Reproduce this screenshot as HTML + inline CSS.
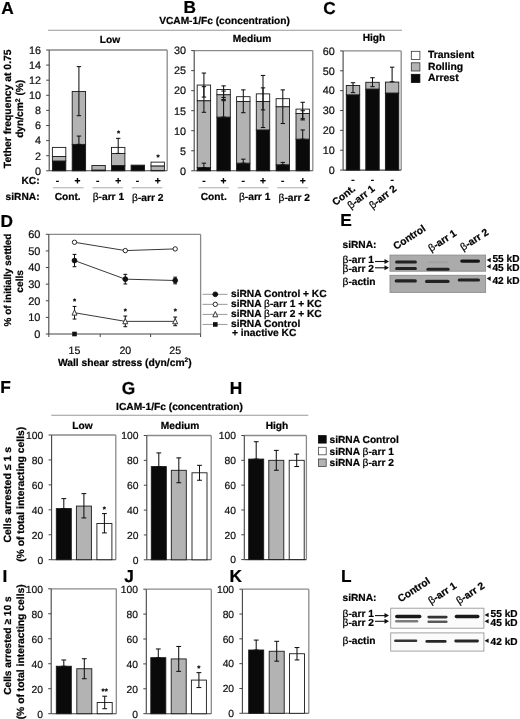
<!DOCTYPE html>
<html><head><meta charset="utf-8"><style>
html,body{margin:0;padding:0;background:#fff;}
body{width:520px;height:719px;overflow:hidden;}
svg{display:block;font-family:"Liberation Sans", sans-serif;filter:grayscale(1);text-rendering:geometricPrecision;}
</style></head><body>
<svg width="520" height="719" viewBox="0 0 520 719">
<defs><filter id="bl" x="-20%" y="-100%" width="140%" height="300%"><feGaussianBlur stdDeviation="0.6"/></filter></defs>
<rect width="520" height="719" fill="#fff"/>
<text x="1.20" y="13.50" font-size="17.3" font-weight="bold" text-anchor="start" fill="#000" stroke="#000" stroke-width="0.22">A</text>
<text x="183.60" y="13.40" font-size="17.3" font-weight="bold" text-anchor="start" fill="#000" stroke="#000" stroke-width="0.22">B</text>
<text x="323.20" y="13.60" font-size="17.3" font-weight="bold" text-anchor="start" fill="#000" stroke="#000" stroke-width="0.22">C</text>
<text x="224.50" y="23.80" font-size="10.2" font-weight="bold" text-anchor="middle" fill="#000" stroke="#000" stroke-width="0.22">VCAM-1/Fc (concentration)</text>
<line x1="48.00" y1="30.30" x2="402.00" y2="30.30" stroke="#999" stroke-width="1.1"/>
<text x="110.00" y="43.20" font-size="10.2" font-weight="bold" text-anchor="middle" fill="#000" stroke="#000" stroke-width="0.22">Low</text>
<text x="252.00" y="42.20" font-size="10.2" font-weight="bold" text-anchor="middle" fill="#000" stroke="#000" stroke-width="0.22">Medium</text>
<text x="374.00" y="41.40" font-size="10.2" font-weight="bold" text-anchor="middle" fill="#000" stroke="#000" stroke-width="0.22">High</text>
<line x1="49.20" y1="50.00" x2="167.20" y2="50.00" stroke="#8a8a8a" stroke-width="1.3"/>
<line x1="167.20" y1="50.00" x2="167.20" y2="170.80" stroke="#8a8a8a" stroke-width="1.3"/>
<line x1="49.20" y1="170.80" x2="167.20" y2="170.80" stroke="#444" stroke-width="1.1"/>
<line x1="49.20" y1="50.00" x2="49.20" y2="170.80" stroke="#444" stroke-width="1.1"/>
<line x1="46.20" y1="170.80" x2="49.20" y2="170.80" stroke="#444" stroke-width="1"/>
<text x="40.90" y="174.60" font-size="10.8" font-weight="normal" text-anchor="end" fill="#111" stroke="#111" stroke-width="0.22">0</text>
<line x1="46.20" y1="155.70" x2="49.20" y2="155.70" stroke="#444" stroke-width="1"/>
<text x="40.90" y="159.50" font-size="10.8" font-weight="normal" text-anchor="end" fill="#111" stroke="#111" stroke-width="0.22">2</text>
<line x1="46.20" y1="140.60" x2="49.20" y2="140.60" stroke="#444" stroke-width="1"/>
<text x="40.90" y="144.40" font-size="10.8" font-weight="normal" text-anchor="end" fill="#111" stroke="#111" stroke-width="0.22">4</text>
<line x1="46.20" y1="125.50" x2="49.20" y2="125.50" stroke="#444" stroke-width="1"/>
<text x="40.90" y="129.30" font-size="10.8" font-weight="normal" text-anchor="end" fill="#111" stroke="#111" stroke-width="0.22">6</text>
<line x1="46.20" y1="110.40" x2="49.20" y2="110.40" stroke="#444" stroke-width="1"/>
<text x="40.90" y="114.20" font-size="10.8" font-weight="normal" text-anchor="end" fill="#111" stroke="#111" stroke-width="0.22">8</text>
<line x1="46.20" y1="95.30" x2="49.20" y2="95.30" stroke="#444" stroke-width="1"/>
<text x="40.90" y="99.10" font-size="10.8" font-weight="normal" text-anchor="end" fill="#111" stroke="#111" stroke-width="0.22">10</text>
<line x1="46.20" y1="80.20" x2="49.20" y2="80.20" stroke="#444" stroke-width="1"/>
<text x="40.90" y="84.00" font-size="10.8" font-weight="normal" text-anchor="end" fill="#111" stroke="#111" stroke-width="0.22">12</text>
<line x1="46.20" y1="65.10" x2="49.20" y2="65.10" stroke="#444" stroke-width="1"/>
<text x="40.90" y="68.90" font-size="10.8" font-weight="normal" text-anchor="end" fill="#111" stroke="#111" stroke-width="0.22">14</text>
<line x1="46.20" y1="50.00" x2="49.20" y2="50.00" stroke="#444" stroke-width="1"/>
<text x="40.90" y="53.80" font-size="10.8" font-weight="normal" text-anchor="end" fill="#111" stroke="#111" stroke-width="0.22">16</text>
<rect x="52.40" y="160.99" width="13.40" height="9.81" fill="#0a0a0a" stroke="#1a1a1a" stroke-width="0.9"/>
<rect x="52.40" y="156.46" width="13.40" height="4.53" fill="#b3b3b3" stroke="#1a1a1a" stroke-width="0.9"/>
<rect x="52.40" y="147.40" width="13.40" height="9.06" fill="#fff" stroke="#1a1a1a" stroke-width="0.9"/>
<rect x="72.20" y="144.38" width="13.40" height="26.43" fill="#0a0a0a" stroke="#1a1a1a" stroke-width="0.9"/>
<rect x="72.20" y="91.53" width="13.40" height="52.85" fill="#b3b3b3" stroke="#1a1a1a" stroke-width="0.9"/>
<line x1="78.90" y1="66.61" x2="78.90" y2="115.69" stroke="#111" stroke-width="1.05"/>
<line x1="76.70" y1="66.61" x2="81.10" y2="66.61" stroke="#111" stroke-width="1.05"/>
<line x1="76.70" y1="115.69" x2="81.10" y2="115.69" stroke="#111" stroke-width="1.05"/>
<line x1="78.90" y1="136.07" x2="78.90" y2="144.38" stroke="#111" stroke-width="1.05"/>
<line x1="76.70" y1="136.07" x2="81.10" y2="136.07" stroke="#111" stroke-width="1.05"/>
<line x1="76.70" y1="144.38" x2="81.10" y2="144.38" stroke="#111" stroke-width="1.05"/>
<rect x="91.90" y="170.05" width="13.40" height="0.75" fill="#0a0a0a" stroke="#1a1a1a" stroke-width="0.9"/>
<rect x="91.90" y="165.52" width="13.40" height="4.53" fill="#b3b3b3" stroke="#1a1a1a" stroke-width="0.9"/>
<rect x="111.50" y="165.52" width="13.40" height="5.28" fill="#0a0a0a" stroke="#1a1a1a" stroke-width="0.9"/>
<rect x="111.50" y="153.44" width="13.40" height="12.08" fill="#b3b3b3" stroke="#1a1a1a" stroke-width="0.9"/>
<rect x="111.50" y="147.40" width="13.40" height="6.04" fill="#fff" stroke="#1a1a1a" stroke-width="0.9"/>
<line x1="118.20" y1="138.34" x2="118.20" y2="153.44" stroke="#111" stroke-width="1.05"/>
<line x1="116.00" y1="138.34" x2="120.40" y2="138.34" stroke="#111" stroke-width="1.05"/>
<line x1="116.00" y1="153.44" x2="120.40" y2="153.44" stroke="#111" stroke-width="1.05"/>
<rect x="131.10" y="165.14" width="13.40" height="5.66" fill="#0a0a0a" stroke="#1a1a1a" stroke-width="0.9"/>
<rect x="151.00" y="170.42" width="13.40" height="0.38" fill="#0a0a0a" stroke="#1a1a1a" stroke-width="0.9"/>
<rect x="151.00" y="165.89" width="13.40" height="4.53" fill="#b3b3b3" stroke="#1a1a1a" stroke-width="0.9"/>
<rect x="151.00" y="162.12" width="13.40" height="3.78" fill="#fff" stroke="#1a1a1a" stroke-width="0.9"/>
<text x="118.50" y="136.00" font-size="8" font-weight="bold" text-anchor="middle" fill="#000" stroke="#000" stroke-width="0.22">*</text>
<text x="158.00" y="160.20" font-size="8" font-weight="bold" text-anchor="middle" fill="#000" stroke="#000" stroke-width="0.22">*</text>
<text x="11.20" y="108.80" font-size="10.4" font-weight="bold" text-anchor="middle" fill="#000" stroke="#000" stroke-width="0.22" transform="rotate(-90 11.20 108.80)">Tether frequency at 0.75</text>
<text x="23.50" y="108.80" font-size="10.2" font-weight="bold" text-anchor="middle" fill="#000" stroke="#000" stroke-width="0.22" transform="rotate(-90 23.50 108.80)">dyn/cm<tspan font-size="6.8" dy="-3.5">2</tspan><tspan dy="3.5"> (%)</tspan></text>
<text x="39.60" y="183.80" font-size="10.2" font-weight="bold" text-anchor="end" fill="#000" stroke="#000" stroke-width="0.22">KC:</text>
<text x="5.60" y="199.60" font-size="10.2" font-weight="bold" text-anchor="start" fill="#000" stroke="#000" stroke-width="0.22">siRNA:</text>
<text x="57.40" y="183.80" font-size="10.2" font-weight="bold" text-anchor="middle" fill="#000" stroke="#000" stroke-width="0.22">-</text>
<text x="77.40" y="183.80" font-size="10.2" font-weight="bold" text-anchor="middle" fill="#000" stroke="#000" stroke-width="0.22">+</text>
<text x="97.60" y="183.80" font-size="10.2" font-weight="bold" text-anchor="middle" fill="#000" stroke="#000" stroke-width="0.22">-</text>
<text x="118.20" y="183.80" font-size="10.2" font-weight="bold" text-anchor="middle" fill="#000" stroke="#000" stroke-width="0.22">+</text>
<text x="137.50" y="183.80" font-size="10.2" font-weight="bold" text-anchor="middle" fill="#000" stroke="#000" stroke-width="0.22">-</text>
<text x="157.70" y="183.80" font-size="10.2" font-weight="bold" text-anchor="middle" fill="#000" stroke="#000" stroke-width="0.22">+</text>
<line x1="53.00" y1="187.80" x2="83.60" y2="187.80" stroke="#aaa" stroke-width="1"/>
<text x="67.70" y="199.60" font-size="10.2" font-weight="bold" text-anchor="middle" fill="#000" stroke="#000" stroke-width="0.22">Cont.</text>
<line x1="92.50" y1="187.80" x2="122.90" y2="187.80" stroke="#aaa" stroke-width="1"/>
<text x="108.40" y="199.60" font-size="10.2" font-weight="bold" text-anchor="middle" fill="#000" stroke="#000" stroke-width="0.22"><tspan font-weight="normal">β</tspan>-arr 1</text>
<line x1="131.70" y1="187.80" x2="162.40" y2="187.80" stroke="#aaa" stroke-width="1"/>
<text x="147.75" y="200.60" font-size="10.2" font-weight="bold" text-anchor="middle" fill="#000" stroke="#000" stroke-width="0.22"><tspan font-weight="normal">β</tspan>-arr 2</text>
<line x1="194.20" y1="50.60" x2="312.80" y2="50.60" stroke="#8a8a8a" stroke-width="1.3"/>
<line x1="312.80" y1="50.60" x2="312.80" y2="170.80" stroke="#8a8a8a" stroke-width="1.3"/>
<line x1="194.20" y1="170.80" x2="312.80" y2="170.80" stroke="#444" stroke-width="1.1"/>
<line x1="194.20" y1="50.60" x2="194.20" y2="170.80" stroke="#444" stroke-width="1.1"/>
<line x1="191.20" y1="170.80" x2="194.20" y2="170.80" stroke="#444" stroke-width="1"/>
<text x="185.90" y="174.60" font-size="10.8" font-weight="normal" text-anchor="end" fill="#111" stroke="#111" stroke-width="0.22">0</text>
<line x1="191.20" y1="150.77" x2="194.20" y2="150.77" stroke="#444" stroke-width="1"/>
<text x="185.90" y="154.57" font-size="10.8" font-weight="normal" text-anchor="end" fill="#111" stroke="#111" stroke-width="0.22">5</text>
<line x1="191.20" y1="130.73" x2="194.20" y2="130.73" stroke="#444" stroke-width="1"/>
<text x="185.90" y="134.53" font-size="10.8" font-weight="normal" text-anchor="end" fill="#111" stroke="#111" stroke-width="0.22">10</text>
<line x1="191.20" y1="110.70" x2="194.20" y2="110.70" stroke="#444" stroke-width="1"/>
<text x="185.90" y="114.50" font-size="10.8" font-weight="normal" text-anchor="end" fill="#111" stroke="#111" stroke-width="0.22">15</text>
<line x1="191.20" y1="90.67" x2="194.20" y2="90.67" stroke="#444" stroke-width="1"/>
<text x="185.90" y="94.47" font-size="10.8" font-weight="normal" text-anchor="end" fill="#111" stroke="#111" stroke-width="0.22">20</text>
<line x1="191.20" y1="70.63" x2="194.20" y2="70.63" stroke="#444" stroke-width="1"/>
<text x="185.90" y="74.43" font-size="10.8" font-weight="normal" text-anchor="end" fill="#111" stroke="#111" stroke-width="0.22">25</text>
<line x1="191.20" y1="50.60" x2="194.20" y2="50.60" stroke="#444" stroke-width="1"/>
<text x="185.90" y="54.40" font-size="10.8" font-weight="normal" text-anchor="end" fill="#111" stroke="#111" stroke-width="0.22">30</text>
<rect x="197.20" y="167.59" width="13.40" height="3.21" fill="#0a0a0a" stroke="#1a1a1a" stroke-width="0.9"/>
<rect x="197.20" y="100.68" width="13.40" height="66.91" fill="#b3b3b3" stroke="#1a1a1a" stroke-width="0.9"/>
<rect x="197.20" y="85.06" width="13.40" height="15.63" fill="#fff" stroke="#1a1a1a" stroke-width="0.9"/>
<line x1="203.90" y1="73.04" x2="203.90" y2="97.08" stroke="#111" stroke-width="1.05"/>
<line x1="201.70" y1="73.04" x2="206.10" y2="73.04" stroke="#111" stroke-width="1.05"/>
<line x1="201.70" y1="97.08" x2="206.10" y2="97.08" stroke="#111" stroke-width="1.05"/>
<line x1="203.90" y1="86.66" x2="203.90" y2="112.30" stroke="#111" stroke-width="1.05"/>
<line x1="201.70" y1="86.66" x2="206.10" y2="86.66" stroke="#111" stroke-width="1.05"/>
<line x1="201.70" y1="112.30" x2="206.10" y2="112.30" stroke="#111" stroke-width="1.05"/>
<line x1="203.90" y1="163.19" x2="203.90" y2="167.59" stroke="#111" stroke-width="1.05"/>
<line x1="201.70" y1="163.19" x2="206.10" y2="163.19" stroke="#111" stroke-width="1.05"/>
<line x1="201.70" y1="167.59" x2="206.10" y2="167.59" stroke="#111" stroke-width="1.05"/>
<rect x="216.90" y="117.11" width="13.40" height="53.69" fill="#0a0a0a" stroke="#1a1a1a" stroke-width="0.9"/>
<rect x="216.90" y="94.67" width="13.40" height="22.44" fill="#b3b3b3" stroke="#1a1a1a" stroke-width="0.9"/>
<rect x="216.90" y="89.46" width="13.40" height="5.21" fill="#fff" stroke="#1a1a1a" stroke-width="0.9"/>
<line x1="223.60" y1="85.86" x2="223.60" y2="97.48" stroke="#111" stroke-width="1.05"/>
<line x1="221.40" y1="85.86" x2="225.80" y2="85.86" stroke="#111" stroke-width="1.05"/>
<line x1="221.40" y1="97.48" x2="225.80" y2="97.48" stroke="#111" stroke-width="1.05"/>
<line x1="223.60" y1="91.07" x2="223.60" y2="99.48" stroke="#111" stroke-width="1.05"/>
<line x1="221.40" y1="91.07" x2="225.80" y2="91.07" stroke="#111" stroke-width="1.05"/>
<line x1="221.40" y1="99.48" x2="225.80" y2="99.48" stroke="#111" stroke-width="1.05"/>
<line x1="223.60" y1="100.68" x2="223.60" y2="117.11" stroke="#111" stroke-width="1.05"/>
<line x1="221.40" y1="100.68" x2="225.80" y2="100.68" stroke="#111" stroke-width="1.05"/>
<line x1="221.40" y1="117.11" x2="225.80" y2="117.11" stroke="#111" stroke-width="1.05"/>
<rect x="236.60" y="163.19" width="13.40" height="7.61" fill="#0a0a0a" stroke="#1a1a1a" stroke-width="0.9"/>
<rect x="236.60" y="101.48" width="13.40" height="61.70" fill="#b3b3b3" stroke="#1a1a1a" stroke-width="0.9"/>
<rect x="236.60" y="96.68" width="13.40" height="4.81" fill="#fff" stroke="#1a1a1a" stroke-width="0.9"/>
<line x1="243.30" y1="89.87" x2="243.30" y2="112.70" stroke="#111" stroke-width="1.05"/>
<line x1="241.10" y1="89.87" x2="245.50" y2="89.87" stroke="#111" stroke-width="1.05"/>
<line x1="241.10" y1="112.70" x2="245.50" y2="112.70" stroke="#111" stroke-width="1.05"/>
<line x1="243.30" y1="159.18" x2="243.30" y2="163.19" stroke="#111" stroke-width="1.05"/>
<line x1="241.10" y1="159.18" x2="245.50" y2="159.18" stroke="#111" stroke-width="1.05"/>
<line x1="241.10" y1="163.19" x2="245.50" y2="163.19" stroke="#111" stroke-width="1.05"/>
<rect x="256.30" y="129.93" width="13.40" height="40.87" fill="#0a0a0a" stroke="#1a1a1a" stroke-width="0.9"/>
<rect x="256.30" y="101.48" width="13.40" height="28.45" fill="#b3b3b3" stroke="#1a1a1a" stroke-width="0.9"/>
<rect x="256.30" y="93.87" width="13.40" height="7.61" fill="#fff" stroke="#1a1a1a" stroke-width="0.9"/>
<line x1="263.00" y1="75.44" x2="263.00" y2="127.53" stroke="#111" stroke-width="1.05"/>
<line x1="260.80" y1="75.44" x2="265.20" y2="75.44" stroke="#111" stroke-width="1.05"/>
<line x1="260.80" y1="127.53" x2="265.20" y2="127.53" stroke="#111" stroke-width="1.05"/>
<line x1="263.00" y1="87.86" x2="263.00" y2="109.90" stroke="#111" stroke-width="1.05"/>
<line x1="260.80" y1="87.86" x2="265.20" y2="87.86" stroke="#111" stroke-width="1.05"/>
<line x1="260.80" y1="109.90" x2="265.20" y2="109.90" stroke="#111" stroke-width="1.05"/>
<rect x="276.10" y="164.79" width="13.40" height="6.01" fill="#0a0a0a" stroke="#1a1a1a" stroke-width="0.9"/>
<rect x="276.10" y="106.69" width="13.40" height="58.10" fill="#b3b3b3" stroke="#1a1a1a" stroke-width="0.9"/>
<rect x="276.10" y="98.68" width="13.40" height="8.01" fill="#fff" stroke="#1a1a1a" stroke-width="0.9"/>
<line x1="282.80" y1="89.87" x2="282.80" y2="123.52" stroke="#111" stroke-width="1.05"/>
<line x1="280.60" y1="89.87" x2="285.00" y2="89.87" stroke="#111" stroke-width="1.05"/>
<line x1="280.60" y1="123.52" x2="285.00" y2="123.52" stroke="#111" stroke-width="1.05"/>
<line x1="282.80" y1="162.39" x2="282.80" y2="164.79" stroke="#111" stroke-width="1.05"/>
<line x1="280.60" y1="162.39" x2="285.00" y2="162.39" stroke="#111" stroke-width="1.05"/>
<line x1="280.60" y1="164.79" x2="285.00" y2="164.79" stroke="#111" stroke-width="1.05"/>
<rect x="296.00" y="139.15" width="13.40" height="31.65" fill="#0a0a0a" stroke="#1a1a1a" stroke-width="0.9"/>
<rect x="296.00" y="113.50" width="13.40" height="25.64" fill="#b3b3b3" stroke="#1a1a1a" stroke-width="0.9"/>
<rect x="296.00" y="109.10" width="13.40" height="4.41" fill="#fff" stroke="#1a1a1a" stroke-width="0.9"/>
<line x1="302.70" y1="102.29" x2="302.70" y2="119.92" stroke="#111" stroke-width="1.05"/>
<line x1="300.50" y1="102.29" x2="304.90" y2="102.29" stroke="#111" stroke-width="1.05"/>
<line x1="300.50" y1="119.92" x2="304.90" y2="119.92" stroke="#111" stroke-width="1.05"/>
<line x1="302.70" y1="110.70" x2="302.70" y2="118.71" stroke="#111" stroke-width="1.05"/>
<line x1="300.50" y1="110.70" x2="304.90" y2="110.70" stroke="#111" stroke-width="1.05"/>
<line x1="300.50" y1="118.71" x2="304.90" y2="118.71" stroke="#111" stroke-width="1.05"/>
<line x1="302.70" y1="129.93" x2="302.70" y2="139.15" stroke="#111" stroke-width="1.05"/>
<line x1="300.50" y1="129.93" x2="304.90" y2="129.93" stroke="#111" stroke-width="1.05"/>
<line x1="300.50" y1="139.15" x2="304.90" y2="139.15" stroke="#111" stroke-width="1.05"/>
<text x="203.90" y="183.80" font-size="10.2" font-weight="bold" text-anchor="middle" fill="#000" stroke="#000" stroke-width="0.22">-</text>
<text x="223.60" y="183.80" font-size="10.2" font-weight="bold" text-anchor="middle" fill="#000" stroke="#000" stroke-width="0.22">+</text>
<text x="243.30" y="183.80" font-size="10.2" font-weight="bold" text-anchor="middle" fill="#000" stroke="#000" stroke-width="0.22">-</text>
<text x="263.00" y="183.80" font-size="10.2" font-weight="bold" text-anchor="middle" fill="#000" stroke="#000" stroke-width="0.22">+</text>
<text x="282.80" y="183.80" font-size="10.2" font-weight="bold" text-anchor="middle" fill="#000" stroke="#000" stroke-width="0.22">-</text>
<text x="302.70" y="183.80" font-size="10.2" font-weight="bold" text-anchor="middle" fill="#000" stroke="#000" stroke-width="0.22">+</text>
<line x1="198.40" y1="187.80" x2="229.10" y2="187.80" stroke="#aaa" stroke-width="1"/>
<text x="213.75" y="199.60" font-size="10.2" font-weight="bold" text-anchor="middle" fill="#000" stroke="#000" stroke-width="0.22">Cont.</text>
<line x1="237.80" y1="187.80" x2="268.50" y2="187.80" stroke="#aaa" stroke-width="1"/>
<text x="254.65" y="199.60" font-size="10.2" font-weight="bold" text-anchor="middle" fill="#000" stroke="#000" stroke-width="0.22"><tspan font-weight="normal">β</tspan>-arr 1</text>
<line x1="277.30" y1="187.80" x2="308.20" y2="187.80" stroke="#aaa" stroke-width="1"/>
<text x="294.25" y="200.60" font-size="10.2" font-weight="bold" text-anchor="middle" fill="#000" stroke="#000" stroke-width="0.22"><tspan font-weight="normal">β</tspan>-arr 2</text>
<line x1="343.10" y1="50.90" x2="401.20" y2="50.90" stroke="#8a8a8a" stroke-width="1.3"/>
<line x1="401.20" y1="50.90" x2="401.20" y2="170.10" stroke="#8a8a8a" stroke-width="1.3"/>
<line x1="343.10" y1="170.10" x2="401.20" y2="170.10" stroke="#444" stroke-width="1.1"/>
<line x1="343.10" y1="50.90" x2="343.10" y2="170.10" stroke="#444" stroke-width="1.1"/>
<line x1="340.10" y1="170.10" x2="343.10" y2="170.10" stroke="#444" stroke-width="1"/>
<text x="334.80" y="173.90" font-size="10.8" font-weight="normal" text-anchor="end" fill="#111" stroke="#111" stroke-width="0.22">0</text>
<line x1="340.10" y1="150.23" x2="343.10" y2="150.23" stroke="#444" stroke-width="1"/>
<text x="334.80" y="154.03" font-size="10.8" font-weight="normal" text-anchor="end" fill="#111" stroke="#111" stroke-width="0.22">10</text>
<line x1="340.10" y1="130.37" x2="343.10" y2="130.37" stroke="#444" stroke-width="1"/>
<text x="334.80" y="134.17" font-size="10.8" font-weight="normal" text-anchor="end" fill="#111" stroke="#111" stroke-width="0.22">20</text>
<line x1="340.10" y1="110.50" x2="343.10" y2="110.50" stroke="#444" stroke-width="1"/>
<text x="334.80" y="114.30" font-size="10.8" font-weight="normal" text-anchor="end" fill="#111" stroke="#111" stroke-width="0.22">30</text>
<line x1="340.10" y1="90.63" x2="343.10" y2="90.63" stroke="#444" stroke-width="1"/>
<text x="334.80" y="94.43" font-size="10.8" font-weight="normal" text-anchor="end" fill="#111" stroke="#111" stroke-width="0.22">40</text>
<line x1="340.10" y1="70.77" x2="343.10" y2="70.77" stroke="#444" stroke-width="1"/>
<text x="334.80" y="74.57" font-size="10.8" font-weight="normal" text-anchor="end" fill="#111" stroke="#111" stroke-width="0.22">50</text>
<line x1="340.10" y1="50.90" x2="343.10" y2="50.90" stroke="#444" stroke-width="1"/>
<text x="334.80" y="54.70" font-size="10.8" font-weight="normal" text-anchor="end" fill="#111" stroke="#111" stroke-width="0.22">60</text>
<rect x="346.30" y="94.81" width="13.40" height="75.29" fill="#0a0a0a" stroke="#1a1a1a" stroke-width="0.9"/>
<rect x="346.30" y="85.47" width="13.40" height="9.34" fill="#b3b3b3" stroke="#1a1a1a" stroke-width="0.9"/>
<line x1="353.00" y1="82.69" x2="353.00" y2="92.62" stroke="#111" stroke-width="1.05"/>
<line x1="350.80" y1="82.69" x2="355.20" y2="82.69" stroke="#111" stroke-width="1.05"/>
<line x1="350.80" y1="92.62" x2="355.20" y2="92.62" stroke="#111" stroke-width="1.05"/>
<rect x="365.80" y="89.04" width="13.40" height="81.06" fill="#0a0a0a" stroke="#1a1a1a" stroke-width="0.9"/>
<rect x="365.80" y="82.29" width="13.40" height="6.75" fill="#b3b3b3" stroke="#1a1a1a" stroke-width="0.9"/>
<line x1="372.50" y1="77.72" x2="372.50" y2="86.66" stroke="#111" stroke-width="1.05"/>
<line x1="370.30" y1="77.72" x2="374.70" y2="77.72" stroke="#111" stroke-width="1.05"/>
<line x1="370.30" y1="86.66" x2="374.70" y2="86.66" stroke="#111" stroke-width="1.05"/>
<rect x="385.40" y="93.02" width="13.40" height="77.08" fill="#0a0a0a" stroke="#1a1a1a" stroke-width="0.9"/>
<rect x="385.40" y="82.09" width="13.40" height="10.93" fill="#b3b3b3" stroke="#1a1a1a" stroke-width="0.9"/>
<line x1="392.10" y1="67.19" x2="392.10" y2="81.69" stroke="#111" stroke-width="1.05"/>
<line x1="389.90" y1="67.19" x2="394.30" y2="67.19" stroke="#111" stroke-width="1.05"/>
<line x1="389.90" y1="81.69" x2="394.30" y2="81.69" stroke="#111" stroke-width="1.05"/>
<text x="353.00" y="183.00" font-size="10.2" font-weight="bold" text-anchor="middle" fill="#000" stroke="#000" stroke-width="0.22">-</text>
<text x="372.50" y="183.00" font-size="10.2" font-weight="bold" text-anchor="middle" fill="#000" stroke="#000" stroke-width="0.22">-</text>
<text x="392.10" y="183.00" font-size="10.2" font-weight="bold" text-anchor="middle" fill="#000" stroke="#000" stroke-width="0.22">-</text>
<text x="356.00" y="190.00" font-size="10.2" font-weight="bold" text-anchor="end" fill="#000" stroke="#000" stroke-width="0.22" transform="rotate(-38 356.00 190.00)">Cont.</text>
<text x="375.50" y="190.00" font-size="10.2" font-weight="bold" text-anchor="end" fill="#000" stroke="#000" stroke-width="0.22" transform="rotate(-38 375.50 190.00)"><tspan font-weight="normal">β</tspan>-arr 1</text>
<text x="397.10" y="190.00" font-size="10.2" font-weight="bold" text-anchor="end" fill="#000" stroke="#000" stroke-width="0.22" transform="rotate(-38 397.10 190.00)"><tspan font-weight="normal">β</tspan>-arr 2</text>
<rect x="411.30" y="51.30" width="8.60" height="8.20" fill="#fff" stroke="#333" stroke-width="0.8"/>
<text x="428.00" y="58.20" font-size="10.4" font-weight="bold" text-anchor="start" fill="#000" stroke="#000" stroke-width="0.22">Transient</text>
<rect x="411.30" y="62.80" width="8.60" height="8.20" fill="#b3b3b3" stroke="#333" stroke-width="0.8"/>
<text x="428.00" y="69.70" font-size="10.4" font-weight="bold" text-anchor="start" fill="#000" stroke="#000" stroke-width="0.22">Rolling</text>
<rect x="411.30" y="74.30" width="8.60" height="8.20" fill="#0a0a0a" stroke="#0a0a0a" stroke-width="0.8"/>
<text x="428.00" y="81.20" font-size="10.4" font-weight="bold" text-anchor="start" fill="#000" stroke="#000" stroke-width="0.22">Arrest</text>
<text x="0.60" y="226.50" font-size="17.3" font-weight="bold" text-anchor="start" fill="#000" stroke="#000" stroke-width="0.22">D</text>
<line x1="48.80" y1="234.30" x2="200.60" y2="234.30" stroke="#8a8a8a" stroke-width="1.3"/>
<line x1="200.60" y1="234.30" x2="200.60" y2="334.00" stroke="#8a8a8a" stroke-width="1.3"/>
<line x1="48.80" y1="334.00" x2="200.60" y2="334.00" stroke="#444" stroke-width="1.1"/>
<line x1="48.80" y1="234.30" x2="48.80" y2="334.00" stroke="#444" stroke-width="1.1"/>
<line x1="45.80" y1="334.00" x2="48.80" y2="334.00" stroke="#444" stroke-width="1"/>
<text x="40.40" y="337.80" font-size="11" font-weight="normal" text-anchor="end" fill="#111" stroke="#111" stroke-width="0.22">0</text>
<line x1="45.80" y1="317.38" x2="48.80" y2="317.38" stroke="#444" stroke-width="1"/>
<text x="40.40" y="321.18" font-size="11" font-weight="normal" text-anchor="end" fill="#111" stroke="#111" stroke-width="0.22">10</text>
<line x1="45.80" y1="300.77" x2="48.80" y2="300.77" stroke="#444" stroke-width="1"/>
<text x="40.40" y="304.57" font-size="11" font-weight="normal" text-anchor="end" fill="#111" stroke="#111" stroke-width="0.22">20</text>
<line x1="45.80" y1="284.15" x2="48.80" y2="284.15" stroke="#444" stroke-width="1"/>
<text x="40.40" y="287.95" font-size="11" font-weight="normal" text-anchor="end" fill="#111" stroke="#111" stroke-width="0.22">30</text>
<line x1="45.80" y1="267.53" x2="48.80" y2="267.53" stroke="#444" stroke-width="1"/>
<text x="40.40" y="271.33" font-size="11" font-weight="normal" text-anchor="end" fill="#111" stroke="#111" stroke-width="0.22">40</text>
<line x1="45.80" y1="250.92" x2="48.80" y2="250.92" stroke="#444" stroke-width="1"/>
<text x="40.40" y="254.72" font-size="11" font-weight="normal" text-anchor="end" fill="#111" stroke="#111" stroke-width="0.22">50</text>
<line x1="45.80" y1="234.30" x2="48.80" y2="234.30" stroke="#444" stroke-width="1"/>
<text x="40.40" y="238.10" font-size="11" font-weight="normal" text-anchor="end" fill="#111" stroke="#111" stroke-width="0.22">60</text>
<line x1="48.80" y1="334.00" x2="48.80" y2="337.00" stroke="#444" stroke-width="1"/>
<line x1="100.20" y1="334.00" x2="100.20" y2="337.00" stroke="#444" stroke-width="1"/>
<line x1="150.60" y1="334.00" x2="150.60" y2="337.00" stroke="#444" stroke-width="1"/>
<line x1="200.60" y1="334.00" x2="200.60" y2="337.00" stroke="#444" stroke-width="1"/>
<text x="74.50" y="353.80" font-size="10.6" font-weight="normal" text-anchor="middle" fill="#111" stroke="#111" stroke-width="0.22">15</text>
<text x="125.30" y="353.80" font-size="10.6" font-weight="normal" text-anchor="middle" fill="#111" stroke="#111" stroke-width="0.22">20</text>
<text x="175.20" y="353.80" font-size="10.6" font-weight="normal" text-anchor="middle" fill="#111" stroke="#111" stroke-width="0.22">25</text>
<text x="124.80" y="365.60" font-size="10.3" font-weight="bold" text-anchor="middle" fill="#000" stroke="#000" stroke-width="0.22">Wall shear stress (dyn/cm<tspan font-size="6.6" dy="-3.6">2</tspan><tspan dy="3.6">)</tspan></text>
<text x="10.50" y="280.00" font-size="9.95" font-weight="bold" text-anchor="middle" fill="#000" stroke="#000" stroke-width="0.22" transform="rotate(-90 10.50 280.00)">% of initially settled</text>
<text x="22.90" y="281.30" font-size="10.2" font-weight="bold" text-anchor="middle" fill="#000" stroke="#000" stroke-width="0.22" transform="rotate(-90 22.90 281.30)">cells</text>
<polyline points="74.50,242.28 125.30,250.58 175.20,248.92" fill="none" stroke="#222" stroke-width="0.9"/>
<polyline points="74.50,260.55 125.30,279.17 175.20,280.49" fill="none" stroke="#222" stroke-width="0.9"/>
<polyline points="74.50,312.73 125.30,321.37 175.20,321.37" fill="none" stroke="#222" stroke-width="0.9"/>
<line x1="74.50" y1="254.41" x2="74.50" y2="266.70" stroke="#111" stroke-width="1.05"/>
<line x1="72.60" y1="254.41" x2="76.40" y2="254.41" stroke="#111" stroke-width="1.05"/>
<line x1="72.60" y1="266.70" x2="76.40" y2="266.70" stroke="#111" stroke-width="1.05"/>
<line x1="125.30" y1="274.35" x2="125.30" y2="283.98" stroke="#111" stroke-width="1.05"/>
<line x1="123.40" y1="274.35" x2="127.20" y2="274.35" stroke="#111" stroke-width="1.05"/>
<line x1="123.40" y1="283.98" x2="127.20" y2="283.98" stroke="#111" stroke-width="1.05"/>
<line x1="175.20" y1="277.17" x2="175.20" y2="283.82" stroke="#111" stroke-width="1.05"/>
<line x1="173.30" y1="277.17" x2="177.10" y2="277.17" stroke="#111" stroke-width="1.05"/>
<line x1="173.30" y1="283.82" x2="177.10" y2="283.82" stroke="#111" stroke-width="1.05"/>
<line x1="74.50" y1="306.42" x2="74.50" y2="319.05" stroke="#111" stroke-width="1.05"/>
<line x1="72.60" y1="306.42" x2="76.40" y2="306.42" stroke="#111" stroke-width="1.05"/>
<line x1="72.60" y1="319.05" x2="76.40" y2="319.05" stroke="#111" stroke-width="1.05"/>
<line x1="125.30" y1="316.05" x2="125.30" y2="326.69" stroke="#111" stroke-width="1.05"/>
<line x1="123.40" y1="316.05" x2="127.20" y2="316.05" stroke="#111" stroke-width="1.05"/>
<line x1="123.40" y1="326.69" x2="127.20" y2="326.69" stroke="#111" stroke-width="1.05"/>
<line x1="175.20" y1="317.05" x2="175.20" y2="325.69" stroke="#111" stroke-width="1.05"/>
<line x1="173.30" y1="317.05" x2="177.10" y2="317.05" stroke="#111" stroke-width="1.05"/>
<line x1="173.30" y1="325.69" x2="177.10" y2="325.69" stroke="#111" stroke-width="1.05"/>
<circle cx="74.50" cy="242.28" r="2.2" fill="#fff" stroke="#111" stroke-width="0.9"/>
<circle cx="125.30" cy="250.58" r="2.2" fill="#fff" stroke="#111" stroke-width="0.9"/>
<circle cx="175.20" cy="248.92" r="2.2" fill="#fff" stroke="#111" stroke-width="0.9"/>
<circle cx="74.50" cy="260.55" r="2.4" fill="#111" stroke="#111" stroke-width="0.9"/>
<circle cx="125.30" cy="279.17" r="2.4" fill="#111" stroke="#111" stroke-width="0.9"/>
<circle cx="175.20" cy="280.49" r="2.4" fill="#111" stroke="#111" stroke-width="0.9"/>
<polygon points="74.50,309.83 77.00,315.13 72.00,315.13" fill="#fff" stroke="#222" stroke-width="0.9"/>
<polygon points="125.30,318.47 127.80,323.77 122.80,323.77" fill="#fff" stroke="#222" stroke-width="0.9"/>
<polygon points="175.20,318.47 177.70,323.77 172.70,323.77" fill="#fff" stroke="#222" stroke-width="0.9"/>
<rect x="72.20" y="331.70" width="4.60" height="4.60" fill="#111" stroke="none" stroke-width="1"/>
<text x="74.50" y="304.00" font-size="8" font-weight="bold" text-anchor="middle" fill="#000" stroke="#000" stroke-width="0.22">*</text>
<text x="125.30" y="313.50" font-size="8" font-weight="bold" text-anchor="middle" fill="#000" stroke="#000" stroke-width="0.22">*</text>
<text x="175.20" y="313.50" font-size="8" font-weight="bold" text-anchor="middle" fill="#000" stroke="#000" stroke-width="0.22">*</text>
<line x1="202.50" y1="294.30" x2="227.50" y2="294.30" stroke="#999" stroke-width="1"/>
<circle cx="215.30" cy="294.30" r="2.4" fill="#111" stroke="#111" stroke-width="0.9"/>
<text x="231.00" y="296.90" font-size="10.2" font-weight="bold" text-anchor="start" fill="#000" stroke="#000" stroke-width="0.22">siRNA Control + KC</text>
<line x1="202.50" y1="304.35" x2="227.50" y2="304.35" stroke="#999" stroke-width="1"/>
<circle cx="215.30" cy="304.35" r="2.2" fill="#fff" stroke="#111" stroke-width="0.9"/>
<text x="231.00" y="306.95" font-size="10.2" font-weight="bold" text-anchor="start" fill="#000" stroke="#000" stroke-width="0.22">siRNA <tspan font-weight="normal">β</tspan>-arr 1 + KC</text>
<line x1="202.50" y1="314.40" x2="227.50" y2="314.40" stroke="#999" stroke-width="1"/>
<polygon points="215.30,311.50 217.80,316.80 212.80,316.80" fill="#fff" stroke="#222" stroke-width="0.9"/>
<text x="231.00" y="317.00" font-size="10.2" font-weight="bold" text-anchor="start" fill="#000" stroke="#000" stroke-width="0.22">siRNA <tspan font-weight="normal">β</tspan>-arr 2 + KC</text>
<line x1="202.50" y1="324.45" x2="227.50" y2="324.45" stroke="#999" stroke-width="1"/>
<rect x="213.00" y="322.15" width="4.60" height="4.60" fill="#111" stroke="none" stroke-width="1"/>
<text x="231.00" y="327.05" font-size="10.2" font-weight="bold" text-anchor="start" fill="#000" stroke="#000" stroke-width="0.22">siRNA Control</text>
<text x="232.00" y="336.00" font-size="10.2" font-weight="bold" text-anchor="start" fill="#000" stroke="#000" stroke-width="0.22">+ inactive KC</text>
<text x="340.20" y="226.40" font-size="17.3" font-weight="bold" text-anchor="start" fill="#000" stroke="#000" stroke-width="0.22">E</text>
<text x="342.50" y="247.90" font-size="10.2" font-weight="bold" text-anchor="start" fill="#000" stroke="#000" stroke-width="0.22">siRNA:</text>
<text x="342.50" y="263.20" font-size="10.2" font-weight="bold" text-anchor="start" fill="#000" stroke="#000" stroke-width="0.22"><tspan font-weight="normal">β</tspan>-arr 1</text>
<text x="342.50" y="272.20" font-size="10.2" font-weight="bold" text-anchor="start" fill="#000" stroke="#000" stroke-width="0.22"><tspan font-weight="normal">β</tspan>-arr 2</text>
<text x="342.50" y="284.80" font-size="10.2" font-weight="bold" text-anchor="start" fill="#000" stroke="#000" stroke-width="0.22"><tspan font-weight="normal">β</tspan>-actin</text>
<line x1="375.00" y1="261.50" x2="386.00" y2="261.50" stroke="#111" stroke-width="1.1"/>
<polygon points="389.00,261.50 384.50,259.00 384.50,264.00" fill="#111"/>
<line x1="375.00" y1="267.80" x2="386.00" y2="267.80" stroke="#111" stroke-width="1.1"/>
<polygon points="389.00,267.80 384.50,265.30 384.50,270.30" fill="#111"/>
<rect x="390.00" y="255.10" width="95.60" height="16.10" fill="#ababab" stroke="#8c8c8c" stroke-width="0.9"/>
<rect x="390.00" y="275.30" width="95.60" height="17.10" fill="#ababab" stroke="#8c8c8c" stroke-width="0.9"/>
<rect x="395.10" y="260.60" width="21.80" height="3.00" rx="1.50" fill="#1a1a1a" opacity="0.95" filter="url(#bl)"/>
<rect x="395.10" y="267.10" width="21.80" height="3.00" rx="1.50" fill="#1a1a1a" opacity="0.95" filter="url(#bl)"/>
<rect x="426.40" y="267.70" width="23.20" height="3.00" rx="1.50" fill="#1a1a1a" opacity="0.95" filter="url(#bl)"/>
<rect x="428.00" y="261.30" width="20.00" height="2.00" rx="1.00" fill="#999" opacity="0.5" filter="url(#bl)"/>
<rect x="460.20" y="259.50" width="19.80" height="3.20" rx="1.60" fill="#111" opacity="0.95" filter="url(#bl)"/>
<rect x="394.70" y="279.30" width="22.20" height="3.20" rx="1.60" fill="#1a1a1a" opacity="0.95" filter="url(#bl)"/>
<rect x="425.00" y="279.70" width="24.60" height="3.40" rx="1.70" fill="#1a1a1a" opacity="0.95" filter="url(#bl)"/>
<rect x="457.70" y="278.40" width="22.30" height="3.20" rx="1.60" fill="#1a1a1a" opacity="0.95" filter="url(#bl)"/>
<polygon points="486.70,260.10 490.70,257.80 490.70,262.40" fill="#111"/>
<polygon points="486.70,266.40 490.70,264.10 490.70,268.70" fill="#111"/>
<polygon points="486.70,278.60 490.70,276.30 490.70,280.90" fill="#111"/>
<text x="492.50" y="262.20" font-size="10.1" font-weight="bold" text-anchor="start" fill="#000" stroke="#000" stroke-width="0.22">55 kD</text>
<text x="492.50" y="271.30" font-size="10.1" font-weight="bold" text-anchor="start" fill="#000" stroke="#000" stroke-width="0.22">45 kD</text>
<text x="492.50" y="284.40" font-size="10.1" font-weight="bold" text-anchor="start" fill="#000" stroke="#000" stroke-width="0.22">42 kD</text>
<text x="396.00" y="250.00" font-size="10.2" font-weight="bold" text-anchor="start" fill="#000" stroke="#000" stroke-width="0.22" transform="rotate(-33 396.00 250.00)">Control</text>
<text x="431.00" y="252.00" font-size="10.2" font-weight="bold" text-anchor="start" fill="#000" stroke="#000" stroke-width="0.22" transform="rotate(-33 431.00 252.00)"><tspan font-weight="normal">β</tspan>-arr 1</text>
<text x="463.00" y="251.00" font-size="10.2" font-weight="bold" text-anchor="start" fill="#000" stroke="#000" stroke-width="0.22" transform="rotate(-33 463.00 251.00)"><tspan font-weight="normal">β</tspan>-arr 2</text>
<text x="0.30" y="393.30" font-size="17.3" font-weight="bold" text-anchor="start" fill="#000" stroke="#000" stroke-width="0.22">F</text>
<text x="121.80" y="393.80" font-size="17.3" font-weight="bold" text-anchor="start" fill="#000" stroke="#000" stroke-width="0.22">G</text>
<text x="229.80" y="394.30" font-size="17.3" font-weight="bold" text-anchor="start" fill="#000" stroke="#000" stroke-width="0.22">H</text>
<text x="179.50" y="409.60" font-size="10.2" font-weight="bold" text-anchor="middle" fill="#000" stroke="#000" stroke-width="0.22">ICAM-1/Fc (concentration)</text>
<line x1="51.20" y1="415.30" x2="308.30" y2="415.30" stroke="#999" stroke-width="1.1"/>
<text x="82.50" y="429.00" font-size="10.2" font-weight="bold" text-anchor="middle" fill="#000" stroke="#000" stroke-width="0.22">Low</text>
<text x="180.00" y="429.00" font-size="10.2" font-weight="bold" text-anchor="middle" fill="#000" stroke="#000" stroke-width="0.22">Medium</text>
<text x="277.00" y="429.00" font-size="10.2" font-weight="bold" text-anchor="middle" fill="#000" stroke="#000" stroke-width="0.22">High</text>
<line x1="51.60" y1="435.00" x2="115.80" y2="435.00" stroke="#8a8a8a" stroke-width="1.3"/>
<line x1="115.80" y1="435.00" x2="115.80" y2="559.70" stroke="#8a8a8a" stroke-width="1.3"/>
<line x1="51.60" y1="559.70" x2="115.80" y2="559.70" stroke="#444" stroke-width="1.1"/>
<line x1="51.60" y1="435.00" x2="51.60" y2="559.70" stroke="#444" stroke-width="1.1"/>
<line x1="48.60" y1="559.70" x2="51.60" y2="559.70" stroke="#444" stroke-width="1"/>
<text x="43.30" y="563.50" font-size="10.3" font-weight="normal" text-anchor="end" fill="#111" stroke="#111" stroke-width="0.22">0</text>
<line x1="48.60" y1="534.76" x2="51.60" y2="534.76" stroke="#444" stroke-width="1"/>
<text x="43.30" y="538.56" font-size="10.3" font-weight="normal" text-anchor="end" fill="#111" stroke="#111" stroke-width="0.22">20</text>
<line x1="48.60" y1="509.82" x2="51.60" y2="509.82" stroke="#444" stroke-width="1"/>
<text x="43.30" y="513.62" font-size="10.3" font-weight="normal" text-anchor="end" fill="#111" stroke="#111" stroke-width="0.22">40</text>
<line x1="48.60" y1="484.88" x2="51.60" y2="484.88" stroke="#444" stroke-width="1"/>
<text x="43.30" y="488.68" font-size="10.3" font-weight="normal" text-anchor="end" fill="#111" stroke="#111" stroke-width="0.22">60</text>
<line x1="48.60" y1="459.94" x2="51.60" y2="459.94" stroke="#444" stroke-width="1"/>
<text x="43.30" y="463.74" font-size="10.3" font-weight="normal" text-anchor="end" fill="#111" stroke="#111" stroke-width="0.22">80</text>
<line x1="48.60" y1="435.00" x2="51.60" y2="435.00" stroke="#444" stroke-width="1"/>
<text x="43.30" y="438.80" font-size="10.3" font-weight="normal" text-anchor="end" fill="#111" stroke="#111" stroke-width="0.22">100</text>
<rect x="56.30" y="508.57" width="15.00" height="51.13" fill="#0a0a0a" stroke="#1a1a1a" stroke-width="0.9"/>
<line x1="63.80" y1="498.60" x2="63.80" y2="508.57" stroke="#111" stroke-width="1.05"/>
<line x1="61.40" y1="498.60" x2="66.20" y2="498.60" stroke="#111" stroke-width="1.05"/>
<line x1="61.40" y1="508.57" x2="66.20" y2="508.57" stroke="#111" stroke-width="1.05"/>
<rect x="76.40" y="506.08" width="15.00" height="53.62" fill="#b3b3b3" stroke="#1a1a1a" stroke-width="0.9"/>
<line x1="83.90" y1="493.61" x2="83.90" y2="517.93" stroke="#111" stroke-width="1.05"/>
<line x1="81.50" y1="493.61" x2="86.30" y2="493.61" stroke="#111" stroke-width="1.05"/>
<line x1="81.50" y1="517.93" x2="86.30" y2="517.93" stroke="#111" stroke-width="1.05"/>
<rect x="96.90" y="523.54" width="15.00" height="36.16" fill="#fff" stroke="#1a1a1a" stroke-width="0.9"/>
<line x1="104.40" y1="513.56" x2="104.40" y2="532.89" stroke="#111" stroke-width="1.05"/>
<line x1="102.00" y1="513.56" x2="106.80" y2="513.56" stroke="#111" stroke-width="1.05"/>
<line x1="102.00" y1="532.89" x2="106.80" y2="532.89" stroke="#111" stroke-width="1.05"/>
<text x="104.40" y="511.50" font-size="8" font-weight="bold" text-anchor="middle" fill="#000" stroke="#000" stroke-width="0.22">*</text>
<line x1="146.80" y1="435.50" x2="211.20" y2="435.50" stroke="#8a8a8a" stroke-width="1.3"/>
<line x1="211.20" y1="435.50" x2="211.20" y2="559.80" stroke="#8a8a8a" stroke-width="1.3"/>
<line x1="146.80" y1="559.80" x2="211.20" y2="559.80" stroke="#444" stroke-width="1.1"/>
<line x1="146.80" y1="435.50" x2="146.80" y2="559.80" stroke="#444" stroke-width="1.1"/>
<line x1="143.80" y1="559.80" x2="146.80" y2="559.80" stroke="#444" stroke-width="1"/>
<text x="138.50" y="563.60" font-size="10.3" font-weight="normal" text-anchor="end" fill="#111" stroke="#111" stroke-width="0.22">0</text>
<line x1="143.80" y1="534.94" x2="146.80" y2="534.94" stroke="#444" stroke-width="1"/>
<text x="138.50" y="538.74" font-size="10.3" font-weight="normal" text-anchor="end" fill="#111" stroke="#111" stroke-width="0.22">20</text>
<line x1="143.80" y1="510.08" x2="146.80" y2="510.08" stroke="#444" stroke-width="1"/>
<text x="138.50" y="513.88" font-size="10.3" font-weight="normal" text-anchor="end" fill="#111" stroke="#111" stroke-width="0.22">40</text>
<line x1="143.80" y1="485.22" x2="146.80" y2="485.22" stroke="#444" stroke-width="1"/>
<text x="138.50" y="489.02" font-size="10.3" font-weight="normal" text-anchor="end" fill="#111" stroke="#111" stroke-width="0.22">60</text>
<line x1="143.80" y1="460.36" x2="146.80" y2="460.36" stroke="#444" stroke-width="1"/>
<text x="138.50" y="464.16" font-size="10.3" font-weight="normal" text-anchor="end" fill="#111" stroke="#111" stroke-width="0.22">80</text>
<line x1="143.80" y1="435.50" x2="146.80" y2="435.50" stroke="#444" stroke-width="1"/>
<text x="138.50" y="439.30" font-size="10.3" font-weight="normal" text-anchor="end" fill="#111" stroke="#111" stroke-width="0.22">100</text>
<rect x="151.30" y="466.57" width="15.00" height="93.22" fill="#0a0a0a" stroke="#1a1a1a" stroke-width="0.9"/>
<line x1="158.80" y1="452.90" x2="158.80" y2="466.57" stroke="#111" stroke-width="1.05"/>
<line x1="156.40" y1="452.90" x2="161.20" y2="452.90" stroke="#111" stroke-width="1.05"/>
<line x1="156.40" y1="466.57" x2="161.20" y2="466.57" stroke="#111" stroke-width="1.05"/>
<rect x="171.30" y="470.30" width="15.00" height="89.50" fill="#b3b3b3" stroke="#1a1a1a" stroke-width="0.9"/>
<line x1="178.80" y1="457.87" x2="178.80" y2="482.73" stroke="#111" stroke-width="1.05"/>
<line x1="176.40" y1="457.87" x2="181.20" y2="457.87" stroke="#111" stroke-width="1.05"/>
<line x1="176.40" y1="482.73" x2="181.20" y2="482.73" stroke="#111" stroke-width="1.05"/>
<rect x="192.00" y="472.79" width="15.00" height="87.01" fill="#fff" stroke="#1a1a1a" stroke-width="0.9"/>
<line x1="199.50" y1="465.33" x2="199.50" y2="480.25" stroke="#111" stroke-width="1.05"/>
<line x1="197.10" y1="465.33" x2="201.90" y2="465.33" stroke="#111" stroke-width="1.05"/>
<line x1="197.10" y1="480.25" x2="201.90" y2="480.25" stroke="#111" stroke-width="1.05"/>
<line x1="244.30" y1="435.50" x2="306.40" y2="435.50" stroke="#8a8a8a" stroke-width="1.3"/>
<line x1="306.40" y1="435.50" x2="306.40" y2="559.60" stroke="#8a8a8a" stroke-width="1.3"/>
<line x1="244.30" y1="559.60" x2="306.40" y2="559.60" stroke="#444" stroke-width="1.1"/>
<line x1="244.30" y1="435.50" x2="244.30" y2="559.60" stroke="#444" stroke-width="1.1"/>
<line x1="241.30" y1="559.60" x2="244.30" y2="559.60" stroke="#444" stroke-width="1"/>
<text x="236.00" y="563.40" font-size="10.3" font-weight="normal" text-anchor="end" fill="#111" stroke="#111" stroke-width="0.22">0</text>
<line x1="241.30" y1="534.78" x2="244.30" y2="534.78" stroke="#444" stroke-width="1"/>
<text x="236.00" y="538.58" font-size="10.3" font-weight="normal" text-anchor="end" fill="#111" stroke="#111" stroke-width="0.22">20</text>
<line x1="241.30" y1="509.96" x2="244.30" y2="509.96" stroke="#444" stroke-width="1"/>
<text x="236.00" y="513.76" font-size="10.3" font-weight="normal" text-anchor="end" fill="#111" stroke="#111" stroke-width="0.22">40</text>
<line x1="241.30" y1="485.14" x2="244.30" y2="485.14" stroke="#444" stroke-width="1"/>
<text x="236.00" y="488.94" font-size="10.3" font-weight="normal" text-anchor="end" fill="#111" stroke="#111" stroke-width="0.22">60</text>
<line x1="241.30" y1="460.32" x2="244.30" y2="460.32" stroke="#444" stroke-width="1"/>
<text x="236.00" y="464.12" font-size="10.3" font-weight="normal" text-anchor="end" fill="#111" stroke="#111" stroke-width="0.22">80</text>
<line x1="241.30" y1="435.50" x2="244.30" y2="435.50" stroke="#444" stroke-width="1"/>
<text x="236.00" y="439.30" font-size="10.3" font-weight="normal" text-anchor="end" fill="#111" stroke="#111" stroke-width="0.22">100</text>
<rect x="248.70" y="459.08" width="15.00" height="100.52" fill="#0a0a0a" stroke="#1a1a1a" stroke-width="0.9"/>
<line x1="256.20" y1="441.70" x2="256.20" y2="459.08" stroke="#111" stroke-width="1.05"/>
<line x1="253.80" y1="441.70" x2="258.60" y2="441.70" stroke="#111" stroke-width="1.05"/>
<line x1="253.80" y1="459.08" x2="258.60" y2="459.08" stroke="#111" stroke-width="1.05"/>
<rect x="268.80" y="460.32" width="15.00" height="99.28" fill="#b3b3b3" stroke="#1a1a1a" stroke-width="0.9"/>
<line x1="276.30" y1="450.39" x2="276.30" y2="470.25" stroke="#111" stroke-width="1.05"/>
<line x1="273.90" y1="450.39" x2="278.70" y2="450.39" stroke="#111" stroke-width="1.05"/>
<line x1="273.90" y1="470.25" x2="278.70" y2="470.25" stroke="#111" stroke-width="1.05"/>
<rect x="289.20" y="460.32" width="15.00" height="99.28" fill="#fff" stroke="#1a1a1a" stroke-width="0.9"/>
<line x1="296.70" y1="454.12" x2="296.70" y2="466.52" stroke="#111" stroke-width="1.05"/>
<line x1="294.30" y1="454.12" x2="299.10" y2="454.12" stroke="#111" stroke-width="1.05"/>
<line x1="294.30" y1="466.52" x2="299.10" y2="466.52" stroke="#111" stroke-width="1.05"/>
<text x="10.80" y="494.80" font-size="10.5" font-weight="bold" text-anchor="middle" fill="#000" stroke="#000" stroke-width="0.22" transform="rotate(-90 10.80 494.80)">Cells arrested ≤ 1 s</text>
<text x="24.20" y="494.30" font-size="10.35" font-weight="bold" text-anchor="middle" fill="#000" stroke="#000" stroke-width="0.22" transform="rotate(-90 24.20 494.30)">(% of total interacting cells)</text>
<rect x="318.40" y="435.60" width="7.80" height="7.50" fill="#0a0a0a" stroke="#0a0a0a" stroke-width="0.8"/>
<text x="329.50" y="442.80" font-size="10.2" font-weight="bold" text-anchor="start" fill="#000" stroke="#000" stroke-width="0.22">siRNA Control</text>
<rect x="318.40" y="447.30" width="7.80" height="7.50" fill="#fff" stroke="#444" stroke-width="0.8"/>
<text x="329.50" y="454.50" font-size="10.2" font-weight="bold" text-anchor="start" fill="#000" stroke="#000" stroke-width="0.22">siRNA <tspan font-weight="normal">β</tspan>-arr 1</text>
<rect x="318.40" y="459.00" width="7.80" height="7.50" fill="#b3b3b3" stroke="#444" stroke-width="0.8"/>
<text x="329.50" y="466.20" font-size="10.2" font-weight="bold" text-anchor="start" fill="#000" stroke="#000" stroke-width="0.22">siRNA <tspan font-weight="normal">β</tspan>-arr 2</text>
<text x="2.60" y="582.10" font-size="17.3" font-weight="bold" text-anchor="start" fill="#000" stroke="#000" stroke-width="0.22">I</text>
<text x="124.30" y="581.90" font-size="17.3" font-weight="bold" text-anchor="start" fill="#000" stroke="#000" stroke-width="0.22">J</text>
<text x="229.50" y="582.20" font-size="17.3" font-weight="bold" text-anchor="start" fill="#000" stroke="#000" stroke-width="0.22">K</text>
<line x1="51.20" y1="588.80" x2="116.30" y2="588.80" stroke="#8a8a8a" stroke-width="1.3"/>
<line x1="116.30" y1="588.80" x2="116.30" y2="713.70" stroke="#8a8a8a" stroke-width="1.3"/>
<line x1="51.20" y1="713.70" x2="116.30" y2="713.70" stroke="#444" stroke-width="1.1"/>
<line x1="51.20" y1="588.80" x2="51.20" y2="713.70" stroke="#444" stroke-width="1.1"/>
<line x1="48.20" y1="713.70" x2="51.20" y2="713.70" stroke="#444" stroke-width="1"/>
<text x="42.90" y="717.50" font-size="10.3" font-weight="normal" text-anchor="end" fill="#111" stroke="#111" stroke-width="0.22">0</text>
<line x1="48.20" y1="688.72" x2="51.20" y2="688.72" stroke="#444" stroke-width="1"/>
<text x="42.90" y="692.52" font-size="10.3" font-weight="normal" text-anchor="end" fill="#111" stroke="#111" stroke-width="0.22">20</text>
<line x1="48.20" y1="663.74" x2="51.20" y2="663.74" stroke="#444" stroke-width="1"/>
<text x="42.90" y="667.54" font-size="10.3" font-weight="normal" text-anchor="end" fill="#111" stroke="#111" stroke-width="0.22">40</text>
<line x1="48.20" y1="638.76" x2="51.20" y2="638.76" stroke="#444" stroke-width="1"/>
<text x="42.90" y="642.56" font-size="10.3" font-weight="normal" text-anchor="end" fill="#111" stroke="#111" stroke-width="0.22">60</text>
<line x1="48.20" y1="613.78" x2="51.20" y2="613.78" stroke="#444" stroke-width="1"/>
<text x="42.90" y="617.58" font-size="10.3" font-weight="normal" text-anchor="end" fill="#111" stroke="#111" stroke-width="0.22">80</text>
<line x1="48.20" y1="588.80" x2="51.20" y2="588.80" stroke="#444" stroke-width="1"/>
<text x="42.90" y="592.60" font-size="10.3" font-weight="normal" text-anchor="end" fill="#111" stroke="#111" stroke-width="0.22">100</text>
<rect x="56.30" y="666.24" width="15.00" height="47.46" fill="#0a0a0a" stroke="#1a1a1a" stroke-width="0.9"/>
<line x1="63.80" y1="659.99" x2="63.80" y2="666.24" stroke="#111" stroke-width="1.05"/>
<line x1="61.40" y1="659.99" x2="66.20" y2="659.99" stroke="#111" stroke-width="1.05"/>
<line x1="61.40" y1="666.24" x2="66.20" y2="666.24" stroke="#111" stroke-width="1.05"/>
<rect x="76.80" y="668.74" width="15.00" height="44.96" fill="#b3b3b3" stroke="#1a1a1a" stroke-width="0.9"/>
<line x1="84.30" y1="658.74" x2="84.30" y2="678.73" stroke="#111" stroke-width="1.05"/>
<line x1="81.90" y1="658.74" x2="86.70" y2="658.74" stroke="#111" stroke-width="1.05"/>
<line x1="81.90" y1="678.73" x2="86.70" y2="678.73" stroke="#111" stroke-width="1.05"/>
<rect x="97.20" y="702.46" width="15.00" height="11.24" fill="#fff" stroke="#1a1a1a" stroke-width="0.9"/>
<line x1="104.70" y1="696.21" x2="104.70" y2="708.70" stroke="#111" stroke-width="1.05"/>
<line x1="102.30" y1="696.21" x2="107.10" y2="696.21" stroke="#111" stroke-width="1.05"/>
<line x1="102.30" y1="708.70" x2="107.10" y2="708.70" stroke="#111" stroke-width="1.05"/>
<text x="104.70" y="693.50" font-size="8" font-weight="bold" text-anchor="middle" fill="#000" stroke="#000" stroke-width="0.22">**</text>
<line x1="146.30" y1="589.20" x2="211.30" y2="589.20" stroke="#8a8a8a" stroke-width="1.3"/>
<line x1="211.30" y1="589.20" x2="211.30" y2="713.70" stroke="#8a8a8a" stroke-width="1.3"/>
<line x1="146.30" y1="713.70" x2="211.30" y2="713.70" stroke="#444" stroke-width="1.1"/>
<line x1="146.30" y1="589.20" x2="146.30" y2="713.70" stroke="#444" stroke-width="1.1"/>
<line x1="143.30" y1="713.70" x2="146.30" y2="713.70" stroke="#444" stroke-width="1"/>
<text x="138.00" y="717.50" font-size="10.3" font-weight="normal" text-anchor="end" fill="#111" stroke="#111" stroke-width="0.22">0</text>
<line x1="143.30" y1="688.80" x2="146.30" y2="688.80" stroke="#444" stroke-width="1"/>
<text x="138.00" y="692.60" font-size="10.3" font-weight="normal" text-anchor="end" fill="#111" stroke="#111" stroke-width="0.22">20</text>
<line x1="143.30" y1="663.90" x2="146.30" y2="663.90" stroke="#444" stroke-width="1"/>
<text x="138.00" y="667.70" font-size="10.3" font-weight="normal" text-anchor="end" fill="#111" stroke="#111" stroke-width="0.22">40</text>
<line x1="143.30" y1="639.00" x2="146.30" y2="639.00" stroke="#444" stroke-width="1"/>
<text x="138.00" y="642.80" font-size="10.3" font-weight="normal" text-anchor="end" fill="#111" stroke="#111" stroke-width="0.22">60</text>
<line x1="143.30" y1="614.10" x2="146.30" y2="614.10" stroke="#444" stroke-width="1"/>
<text x="138.00" y="617.90" font-size="10.3" font-weight="normal" text-anchor="end" fill="#111" stroke="#111" stroke-width="0.22">80</text>
<line x1="143.30" y1="589.20" x2="146.30" y2="589.20" stroke="#444" stroke-width="1"/>
<text x="138.00" y="593.00" font-size="10.3" font-weight="normal" text-anchor="end" fill="#111" stroke="#111" stroke-width="0.22">100</text>
<rect x="150.80" y="657.68" width="15.00" height="56.02" fill="#0a0a0a" stroke="#1a1a1a" stroke-width="0.9"/>
<line x1="158.30" y1="648.96" x2="158.30" y2="657.68" stroke="#111" stroke-width="1.05"/>
<line x1="155.90" y1="648.96" x2="160.70" y2="648.96" stroke="#111" stroke-width="1.05"/>
<line x1="155.90" y1="657.68" x2="160.70" y2="657.68" stroke="#111" stroke-width="1.05"/>
<rect x="171.20" y="658.92" width="15.00" height="54.78" fill="#b3b3b3" stroke="#1a1a1a" stroke-width="0.9"/>
<line x1="178.70" y1="646.47" x2="178.70" y2="671.37" stroke="#111" stroke-width="1.05"/>
<line x1="176.30" y1="646.47" x2="181.10" y2="646.47" stroke="#111" stroke-width="1.05"/>
<line x1="176.30" y1="671.37" x2="181.10" y2="671.37" stroke="#111" stroke-width="1.05"/>
<rect x="191.40" y="680.09" width="15.00" height="33.62" fill="#fff" stroke="#1a1a1a" stroke-width="0.9"/>
<line x1="198.90" y1="672.62" x2="198.90" y2="687.56" stroke="#111" stroke-width="1.05"/>
<line x1="196.50" y1="672.62" x2="201.30" y2="672.62" stroke="#111" stroke-width="1.05"/>
<line x1="196.50" y1="687.56" x2="201.30" y2="687.56" stroke="#111" stroke-width="1.05"/>
<text x="198.90" y="671.00" font-size="8" font-weight="bold" text-anchor="middle" fill="#000" stroke="#000" stroke-width="0.22">*</text>
<line x1="242.40" y1="589.20" x2="308.80" y2="589.20" stroke="#8a8a8a" stroke-width="1.3"/>
<line x1="308.80" y1="589.20" x2="308.80" y2="713.30" stroke="#8a8a8a" stroke-width="1.3"/>
<line x1="242.40" y1="713.30" x2="308.80" y2="713.30" stroke="#444" stroke-width="1.1"/>
<line x1="242.40" y1="589.20" x2="242.40" y2="713.30" stroke="#444" stroke-width="1.1"/>
<line x1="239.40" y1="713.30" x2="242.40" y2="713.30" stroke="#444" stroke-width="1"/>
<text x="234.10" y="717.10" font-size="10.3" font-weight="normal" text-anchor="end" fill="#111" stroke="#111" stroke-width="0.22">0</text>
<line x1="239.40" y1="688.48" x2="242.40" y2="688.48" stroke="#444" stroke-width="1"/>
<text x="234.10" y="692.28" font-size="10.3" font-weight="normal" text-anchor="end" fill="#111" stroke="#111" stroke-width="0.22">20</text>
<line x1="239.40" y1="663.66" x2="242.40" y2="663.66" stroke="#444" stroke-width="1"/>
<text x="234.10" y="667.46" font-size="10.3" font-weight="normal" text-anchor="end" fill="#111" stroke="#111" stroke-width="0.22">40</text>
<line x1="239.40" y1="638.84" x2="242.40" y2="638.84" stroke="#444" stroke-width="1"/>
<text x="234.10" y="642.64" font-size="10.3" font-weight="normal" text-anchor="end" fill="#111" stroke="#111" stroke-width="0.22">60</text>
<line x1="239.40" y1="614.02" x2="242.40" y2="614.02" stroke="#444" stroke-width="1"/>
<text x="234.10" y="617.82" font-size="10.3" font-weight="normal" text-anchor="end" fill="#111" stroke="#111" stroke-width="0.22">80</text>
<line x1="239.40" y1="589.20" x2="242.40" y2="589.20" stroke="#444" stroke-width="1"/>
<text x="234.10" y="593.00" font-size="10.3" font-weight="normal" text-anchor="end" fill="#111" stroke="#111" stroke-width="0.22">100</text>
<rect x="248.70" y="650.01" width="15.00" height="63.29" fill="#0a0a0a" stroke="#1a1a1a" stroke-width="0.9"/>
<line x1="256.20" y1="640.08" x2="256.20" y2="650.01" stroke="#111" stroke-width="1.05"/>
<line x1="253.80" y1="640.08" x2="258.60" y2="640.08" stroke="#111" stroke-width="1.05"/>
<line x1="253.80" y1="650.01" x2="258.60" y2="650.01" stroke="#111" stroke-width="1.05"/>
<rect x="269.20" y="651.25" width="15.00" height="62.05" fill="#b3b3b3" stroke="#1a1a1a" stroke-width="0.9"/>
<line x1="276.70" y1="641.32" x2="276.70" y2="661.18" stroke="#111" stroke-width="1.05"/>
<line x1="274.30" y1="641.32" x2="279.10" y2="641.32" stroke="#111" stroke-width="1.05"/>
<line x1="274.30" y1="661.18" x2="279.10" y2="661.18" stroke="#111" stroke-width="1.05"/>
<rect x="289.50" y="653.73" width="15.00" height="59.57" fill="#fff" stroke="#1a1a1a" stroke-width="0.9"/>
<line x1="297.00" y1="647.53" x2="297.00" y2="659.94" stroke="#111" stroke-width="1.05"/>
<line x1="294.60" y1="647.53" x2="299.40" y2="647.53" stroke="#111" stroke-width="1.05"/>
<line x1="294.60" y1="659.94" x2="299.40" y2="659.94" stroke="#111" stroke-width="1.05"/>
<text x="10.80" y="645.60" font-size="10.2" font-weight="bold" text-anchor="middle" fill="#000" stroke="#000" stroke-width="0.22" transform="rotate(-90 10.80 645.60)">Cells arrested ≥ 10 s</text>
<text x="24.00" y="651.80" font-size="10.35" font-weight="bold" text-anchor="middle" fill="#000" stroke="#000" stroke-width="0.22" transform="rotate(-90 24.00 651.80)">(% of total interacting cells)</text>
<text x="340.90" y="581.60" font-size="17.3" font-weight="bold" text-anchor="start" fill="#000" stroke="#000" stroke-width="0.22">L</text>
<text x="342.50" y="601.30" font-size="10.2" font-weight="bold" text-anchor="start" fill="#000" stroke="#000" stroke-width="0.22">siRNA:</text>
<text x="342.50" y="617.20" font-size="10.2" font-weight="bold" text-anchor="start" fill="#000" stroke="#000" stroke-width="0.22"><tspan font-weight="normal">β</tspan>-arr 1</text>
<text x="342.50" y="626.00" font-size="10.2" font-weight="bold" text-anchor="start" fill="#000" stroke="#000" stroke-width="0.22"><tspan font-weight="normal">β</tspan>-arr 2</text>
<text x="342.50" y="644.20" font-size="10.2" font-weight="bold" text-anchor="start" fill="#000" stroke="#000" stroke-width="0.22"><tspan font-weight="normal">β</tspan>-actin</text>
<line x1="375.00" y1="615.60" x2="386.00" y2="615.60" stroke="#111" stroke-width="1.1"/>
<polygon points="389.00,615.60 384.50,613.10 384.50,618.10" fill="#111"/>
<line x1="375.00" y1="621.30" x2="386.00" y2="621.30" stroke="#111" stroke-width="1.1"/>
<polygon points="389.00,621.30 384.50,618.80 384.50,623.80" fill="#111"/>
<rect x="390.70" y="608.20" width="93.20" height="20.00" fill="#fbfbfb" stroke="#999" stroke-width="0.9"/>
<rect x="390.70" y="632.90" width="93.20" height="18.20" fill="#fbfbfb" stroke="#999" stroke-width="0.9"/>
<rect x="395.10" y="614.80" width="26.30" height="3.40" rx="1.70" fill="#111" opacity="0.95" filter="url(#bl)"/>
<rect x="395.10" y="620.00" width="23.20" height="2.40" rx="1.20" fill="#666" opacity="0.85" filter="url(#bl)"/>
<rect x="427.40" y="615.70" width="20.20" height="2.80" rx="1.40" fill="#2a2a2a" opacity="0.95" filter="url(#bl)"/>
<rect x="427.40" y="620.60" width="20.20" height="2.40" rx="1.20" fill="#4a4a4a" opacity="0.9" filter="url(#bl)"/>
<rect x="454.70" y="614.80" width="24.80" height="3.40" rx="1.70" fill="#111" opacity="0.95" filter="url(#bl)"/>
<rect x="394.10" y="639.50" width="23.20" height="2.60" rx="1.30" fill="#2a2a2a" opacity="0.95" filter="url(#bl)"/>
<rect x="425.40" y="640.00" width="21.20" height="2.80" rx="1.40" fill="#1e1e1e" opacity="0.95" filter="url(#bl)"/>
<rect x="454.30" y="639.60" width="24.60" height="2.80" rx="1.40" fill="#1e1e1e" opacity="0.95" filter="url(#bl)"/>
<polygon points="484.60,615.00 488.60,612.70 488.60,617.30" fill="#111"/>
<polygon points="484.60,621.20 488.60,618.90 488.60,623.50" fill="#111"/>
<polygon points="484.60,640.80 488.60,638.50 488.60,643.10" fill="#111"/>
<text x="490.60" y="616.90" font-size="10.1" font-weight="bold" text-anchor="start" fill="#000" stroke="#000" stroke-width="0.22">55 kD</text>
<text x="490.60" y="625.80" font-size="10.1" font-weight="bold" text-anchor="start" fill="#000" stroke="#000" stroke-width="0.22">45 kD</text>
<text x="490.60" y="644.60" font-size="10.1" font-weight="bold" text-anchor="start" fill="#000" stroke="#000" stroke-width="0.22">42 kD</text>
<text x="400.50" y="602.50" font-size="10.2" font-weight="bold" text-anchor="start" fill="#000" stroke="#000" stroke-width="0.22" transform="rotate(-33 400.50 602.50)">Control</text>
<text x="431.00" y="604.50" font-size="10.2" font-weight="bold" text-anchor="start" fill="#000" stroke="#000" stroke-width="0.22" transform="rotate(-33 431.00 604.50)"><tspan font-weight="normal">β</tspan>-arr 1</text>
<text x="459.00" y="604.50" font-size="10.2" font-weight="bold" text-anchor="start" fill="#000" stroke="#000" stroke-width="0.22" transform="rotate(-33 459.00 604.50)"><tspan font-weight="normal">β</tspan>-arr 2</text>
</svg>
</body></html>
